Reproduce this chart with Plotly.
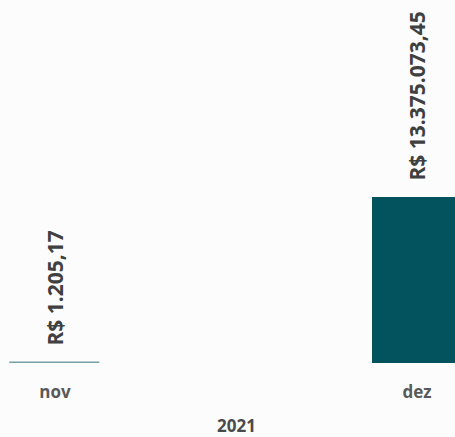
import plotly.graph_objects as go

months = ["nov", "dez"]
values = [1205.17, 13375073.45]
labels = ["R$ 1.205,17", "R$ 13.375.073,45"]
year_label = "2021"

bar_color = "#02535E"
bg = "#FCFCFC"

fig = go.Figure()
fig.add_trace(go.Bar(
    x=months, y=values,
    marker=dict(color=bar_color, line=dict(color="rgba(2,83,94,0.55)", width=[1.5, 0])),
    width=0.249,
    hoverinfo="skip",
))

for m, v, t in zip(months, values, labels):
    fig.add_annotation(
        x=m, y=v, xref="x", yref="y", xanchor="center", yanchor="bottom",
        text=t, textangle=-90, showarrow=False, yshift=15,
        font=dict(family="Open Sans", size=21, color="#404040", weight="bold"),
    )

fig.add_annotation(
    x=0.5, y=0, xref="x", yref="paper", yanchor="middle", xanchor="center",
    yshift=-62, text=year_label, showarrow=False, borderpad=0,
    font=dict(family="Open Sans", size=17, color="#4A4A4A", weight="bold"),
)

fig.update_layout(
    width=455, height=437,
    margin=dict(l=0, r=0, t=0, b=74),
    paper_bgcolor=bg, plot_bgcolor=bg,
    showlegend=False,
    bargap=0,
    xaxis=dict(
        type="category",
        range=[-0.152, 1.105],
        showgrid=False, zeroline=False, showline=False,
        ticks="outside", ticklen=14, tickcolor="rgba(0,0,0,0)",
        tickfont=dict(family="Open Sans", size=17, color="#595959", weight="bold"),
    ),
    yaxis=dict(
        range=[0, 29250000],
        visible=False, showgrid=False, zeroline=False,
    ),
)

fig.write_html(
    "out.html",
    config={"displayModeBar": False},
    post_script="document.body.style.margin='0';document.body.style.overflow='hidden';",
)
